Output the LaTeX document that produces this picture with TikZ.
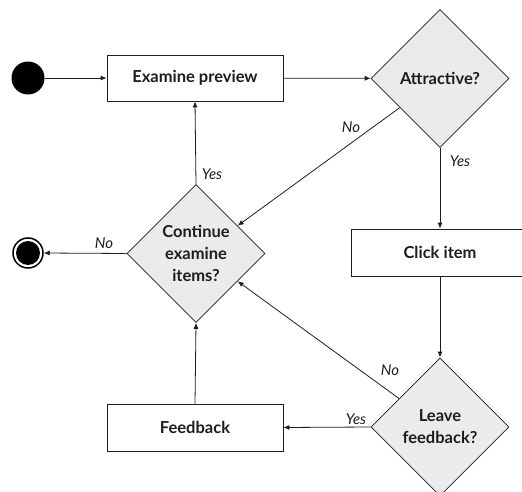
\documentclass[tikz,border=0pt]{standalone}
\usepackage{fontspec}
\setmainfont{Lato}
\usetikzlibrary{shapes.geometric,arrows.meta,calc}
\definecolor{linec}{HTML}{1E1E1E}
\definecolor{dfill}{HTML}{EBEBEB}
\tikzset{
  every node/.style={font=\fontsize{16.5}{19}\selectfont\bfseries, text=linec},
  actbox/.style={draw=linec, line width=0.8pt, fill=white, minimum width=176pt, minimum height=46pt, inner sep=0pt},
  decision/.style={draw=linec, line width=0.8pt, fill=dfill, diamond, aspect=1, minimum width=138pt, minimum height=138pt, inner sep=0pt, align=center, font=\fontsize{16.5}{22}\selectfont\bfseries},
  conn/.style={draw=linec, line width=0.8pt, -{Latex[length=6pt,width=5pt]}},
  lbl/.style={font=\fontsize{15}{17}\selectfont\itshape, text=linec, inner sep=0pt}
}
\begin{document}
\begin{tikzpicture}[x=1pt,y=-1pt]
\useasboundingbox (0,0) rectangle (522,492);
\begin{scope}
\clip (0,0) rectangle (522,492);
\node[circle, fill=black, minimum size=33pt, inner sep=0pt] (start) at (28,78) {};
\node[actbox] (exam) at (195,78) {Examine preview};
\node[decision] (attr) at (440,78.5) {Attractive?};
\node[decision] (cont) at (196,253.5) {Continue\\examine\\items?};
\node[actbox, minimum width=178pt, minimum height=47pt] (click) at (440,252.5) {Click item};
\node[decision] (leave) at (440,427) {Leave\\feedback?};
\node[actbox, minimum height=47pt] (fb) at (195,427.5) {Feedback};
\node[circle, draw=black, line width=1.5pt, fill=white, minimum size=30pt, inner sep=0pt] (endc) at (28,253) {};
\node[circle, fill=black, minimum size=24pt, inner sep=0pt] (endi) at (28,253) {};

\draw[conn] (start) -- (exam);
\draw[conn] (exam) -- (attr);
\draw[conn] ($(attr.west)!0.42!(attr.south)$) -- ($(cont.north)!0.6!(cont.east)$);
\draw[conn] (attr.south) -- (click.north);
\draw[conn] (cont.north) -- (exam.south);
\draw[conn] (cont.west) -- (endc.east);
\draw[conn] (click.south) -- (leave.north);
\draw[conn] ($(leave.west)!0.41!(leave.north)$) -- ($(cont.east)!0.4!(cont.south)$);
\draw[conn] (leave.west) -- (fb.east);
\draw[conn] (fb.north) -- (cont.south);

\node[lbl] (l1) at (351,127) {No};
\node[lbl] (l2) at (460,161) {Yes};
\node[lbl] (l3) at (212,174) {Yes};
\node[lbl] (l4) at (104,243) {No};
\node[lbl] (l5) at (390,370) {No};
\node[lbl] (l6) at (356,419) {Yes};
\end{scope}
\end{tikzpicture}
\end{document}
